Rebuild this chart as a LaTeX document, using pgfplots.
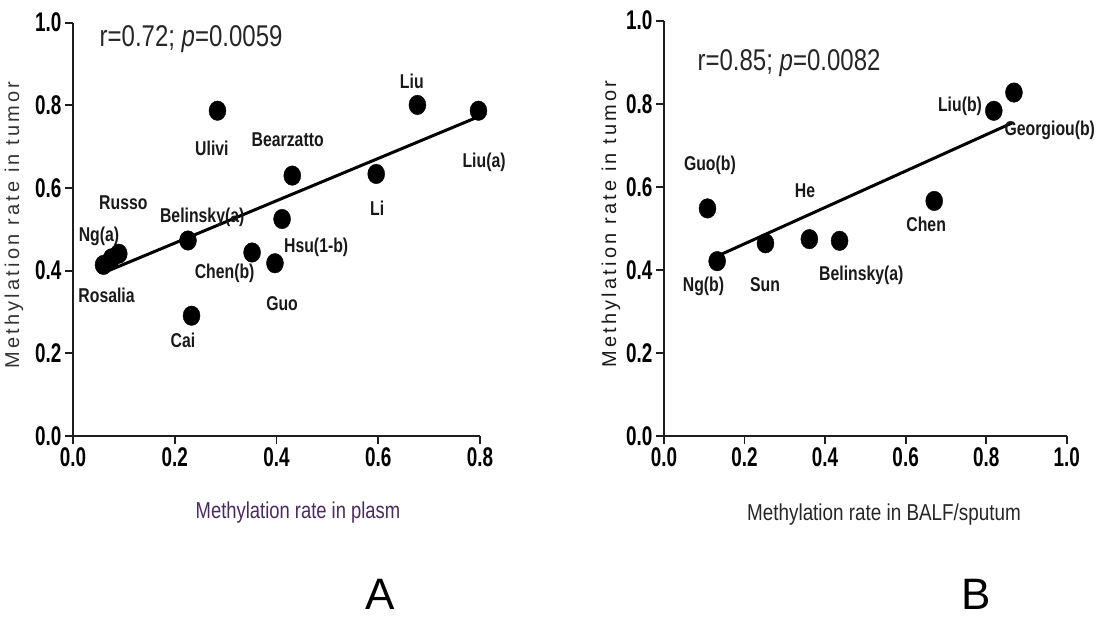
\documentclass[border=0pt]{standalone}
\usepackage{pgfplots}
\pgfplotsset{compat=1.18}
\usepackage{fontspec}
\setmainfont{Liberation Sans}
\newfontfamily\tickfont[FakeStretch=0.70]{Liberation Sans}
\newfontfamily\labfont[FakeStretch=0.79]{Liberation Sans}
\newfontfamily\rfont[FakeStretch=0.80]{Liberation Sans}
\newfontfamily\xlabfont[FakeStretch=0.80]{Liberation Sans}
\newfontfamily\xlabBfont[FakeStretch=0.82]{Liberation Sans}
\newfontfamily\ylabfont[LetterSpace=16]{Liberation Sans}
\definecolor{plasm}{HTML}{4A2A5E}
\definecolor{axcol}{HTML}{1E1E1E}

\tikzset{
  dlab/.style={font=\labfont\bfseries\fontsize{20}{20}\selectfont, text=black!90, inner sep=0pt},
}
\pgfplotsset{
  common/.style={
    scale only axis,
    axis lines=left,
    axis line style={-, line width=2pt, axcol},
    tick align=outside,
    major tick length=8pt,
    tick style={line width=1.8pt, axcol},
    ymin=0, ymax=1,
    ytick={0,0.2,0.4,0.6,0.8,1.0},
    clip=false,
    ticklabel style={font=\tickfont\bfseries\fontsize{27}{27}\selectfont, text=black},
    /pgf/number format/assume math mode=true,
    /pgf/number format/fixed,
    /pgf/number format/fixed zerofill,
    /pgf/number format/precision=1,
  },
  dots/.style={only marks, mark=*, mark size=8.5pt, mark options={fill=black, draw=black, yscale=1.15}},
  fit/.style={no marks, line width=3pt, black},
}

\begin{document}
\begin{tikzpicture}
\path[use as bounding box] (0pt,0pt) rectangle (1117pt,617pt);

% ---------------- Panel A ----------------
\begin{axis}[common,
  at={(73pt,181pt)}, anchor=south west,
  width=407pt, height=413.3pt,
  xmin=0, xmax=0.8,
  xtick={0,0.2,0.4,0.6,0.8},
]
\addplot[fit] coordinates {(0.060,0.395) (0.798,0.773)};
\addplot[dots] coordinates {
  (0.284,0.787) (0.677,0.801) (0.797,0.787) (0.431,0.630) (0.596,0.634)
  (0.411,0.525) (0.226,0.473) (0.352,0.444) (0.397,0.418) (0.233,0.291)
  (0.090,0.441) (0.076,0.430) (0.060,0.414)
};
\node[anchor=base west, font=\rfont\fontsize{30}{30}\selectfont, text=black!85, inner sep=0pt]
  at (axis cs:0.052,0.942) {r=0.72; \textit{p}=0.0059};
\node[dlab] at (axis cs:0.666,0.857) {Liu};
\node[dlab] at (axis cs:0.273,0.696) {Ulivi};
\node[dlab] at (axis cs:0.422,0.718) {Bearzatto};
\node[dlab] at (axis cs:0.808,0.661) {Liu(a)};
\node[dlab] at (axis cs:0.099,0.564) {Russo};
\node[dlab] at (axis cs:0.254,0.529) {Belinsky(a)};
\node[dlab] at (axis cs:0.598,0.551) {Li};
\node[dlab] at (axis cs:0.051,0.482) {Ng(a)};
\node[dlab] at (axis cs:0.478,0.457) {Hsu(1-b)};
\node[dlab] at (axis cs:0.298,0.394) {Chen(b)};
\node[dlab] at (axis cs:0.066,0.341) {Rosalia};
\node[dlab] at (axis cs:0.411,0.321) {Guo};
\node[dlab] at (axis cs:0.216,0.232) {Cai};
\end{axis}

% ---------------- Panel B ----------------
\begin{axis}[common,
  at={(664pt,181pt)}, anchor=south west,
  width=402.7pt, height=415.3pt,
  xmin=0, xmax=1.0,
  xtick={0,0.2,0.4,0.6,0.8,1.0},
]
\addplot[fit] coordinates {(0.132,0.433) (0.865,0.754)};
\addplot[dots] coordinates {
  (0.108,0.548) (0.132,0.421) (0.252,0.464) (0.361,0.474)
  (0.436,0.470) (0.671,0.566) (0.819,0.783) (0.869,0.827)
};
\node[anchor=base west, font=\rfont\fontsize{30}{30}\selectfont, text=black!85, inner sep=0pt]
  at (axis cs:0.083,0.881) {r=0.85; \textit{p}=0.0082};
\node[dlab] at (axis cs:0.735,0.794) {Liu(b)};
\node[dlab] at (axis cs:0.958,0.737) {Georgiou(b)};
\node[dlab] at (axis cs:0.114,0.651) {Guo(b)};
\node[dlab] at (axis cs:0.350,0.591) {He};
\node[dlab] at (axis cs:0.651,0.510) {Chen};
\node[dlab] at (axis cs:0.490,0.386) {Belinsky(a)};
\node[dlab] at (axis cs:0.251,0.364) {Sun};
\node[dlab] at (axis cs:0.098,0.360) {Ng(b)};
\end{axis}

% ---------------- axis titles and panel letters ----------------
\node[font=\xlabfont\fontsize{23}{23}\selectfont, text=plasm] at (298pt,104pt) {Methylation rate in plasm};
\node[font=\xlabBfont\fontsize{23}{23}\selectfont, text=black!85] at (884pt,102pt) {Methylation rate in BALF/sputum};
\node[rotate=90, font=\ylabfont\fontsize{20}{20}\selectfont, text=black!80] at (14pt,392pt) {Methylation rate in tumor};
\node[rotate=90, font=\ylabfont\fontsize{20}{20}\selectfont, text=black!90] at (611pt,393pt) {Methylation rate in tumor};
\node[font=\fontsize{44}{44}\selectfont, anchor=base, inner sep=0pt] at (380pt,7pt) {A};
\node[font=\fontsize{44}{44}\selectfont, anchor=base, inner sep=0pt] at (976pt,7pt) {B};
\end{tikzpicture}
\end{document}
